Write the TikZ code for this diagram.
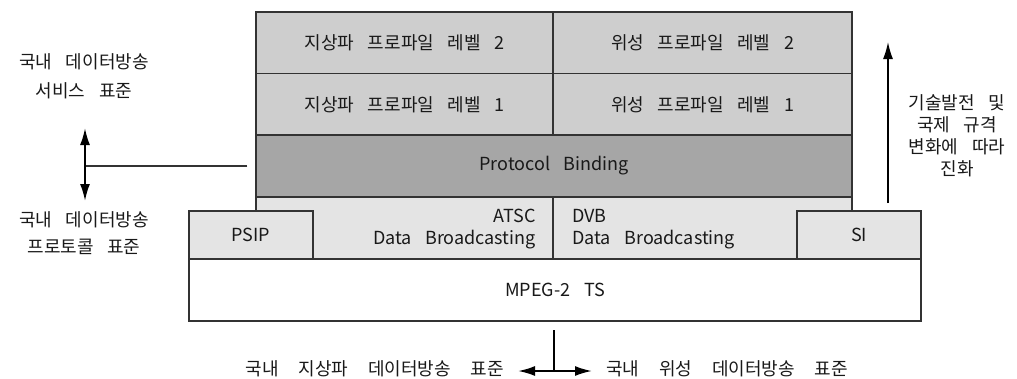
\documentclass[tikz,border=0pt]{standalone}
\usepackage{fontspec}
\newfontfamily\kr{Noto Sans CJK KR}
\newcommand\krtextfont{\kr\fontsize{18pt}{22pt}\selectfont\spaceskip=0.75em\relax}
\newcommand\krwidefont{\kr\fontsize{18pt}{22pt}\selectfont\spaceskip=1.1em\relax}
\usetikzlibrary{arrows.meta}
\definecolor{rowgray}{HTML}{CECECE}
\definecolor{pbgray}{HTML}{A6A6A6}
\definecolor{lightgray2}{HTML}{E4E4E4}
\definecolor{edge}{HTML}{333333}
\begin{document}
\begin{tikzpicture}[x=1pt,y=-1pt,
  txt/.style={font=\krtextfont, text=black!90, inner sep=0pt},
  cell/.style={txt, draw=edge, line width=1.3pt, minimum height=62pt, anchor=center},
  tip/.style={-{Latex[length=17pt,width=10pt]}},
  dtip/.style={{Latex[length=17pt,width=10pt]}-{Latex[length=17pt,width=10pt]}}
]
\useasboundingbox (0,0) rectangle (1017,378);
% top rows
\node[cell, fill=rowgray, minimum width=297pt] (l2) at (404.5,43) {지상파 프로파일 레벨 2};
\node[cell, fill=rowgray, minimum width=299pt] (r2) at (702.5,43) {위성 프로파일 레벨 2};
\node[cell, fill=rowgray, minimum width=297pt] (l1) at (404.5,104.5) {지상파 프로파일 레벨 1};
\node[cell, fill=rowgray, minimum width=299pt] (r1) at (702.5,104.5) {위성 프로파일 레벨 1};
\node[cell, fill=pbgray, minimum width=596pt] (pb) at (554,166) {Protocol Binding};
% data broadcasting strip
\node[cell, fill=lightgray2, minimum width=297pt] (atsc) at (404.5,228) {};
\node[cell, fill=lightgray2, minimum width=299pt] (dvb) at (702.5,228) {};
\node[txt, anchor=east, align=right] (atsct) at (536,229) {ATSC\\Data Broadcasting};
\node[txt, anchor=west, align=left] (dvbt) at (572,229) {DVB\\Data Broadcasting};
% PSIP / SI
\node[cell, fill=lightgray2, minimum width=124pt, minimum height=48pt] (psip) at (251,235) {PSIP};
\node[cell, fill=lightgray2, minimum width=124pt, minimum height=48pt] (si) at (859,235) {SI};
% MPEG
\node[cell, fill=white, minimum width=732pt] (mpeg) at (555,290) {MPEG-2 TS};
% left side
\node[txt, align=center] (svc) at (84,76) {국내 데이터방송\\[7pt]서비스 표준};
\node[txt, align=center] (proto) at (84,233) {국내 데이터방송\\[5pt]프로토콜 표준};
\coordinate (lj) at (85,166);
\coordinate (lt) at (85,128);
\coordinate (lb) at (85,201);
\draw[line width=1.2pt, edge] ([xshift=-8pt]pb.west) -- (lj);
\draw[dtip, line width=2pt] (lt) -- (lb);
% right side
\node[txt, align=center] (evo) at (957,136) {기술발전 및\\국제 규격\\변화에 따라\\진화};
\coordinate (ub) at (888,203);
\coordinate (ut) at (888,42);
\draw[tip, line width=1.5pt] (ub) -- (ut);
% bottom
\coordinate (bt) at (554,330);
\coordinate (bj) at (554,371);
\coordinate (bl) at (518,371);
\coordinate (br) at (592,371);
\draw[line width=1.3pt] (bt) -- (bj);
\draw[dtip, line width=2pt] (bl) -- (br);
\node[txt, anchor=east, font=\krwidefont] (terr) at (504,369) {국내 지상파 데이터방송 표준};
\node[txt, anchor=west, font=\krwidefont] (sat) at (606,369) {국내 위성 데이터방송 표준};
\end{tikzpicture}
\end{document}
